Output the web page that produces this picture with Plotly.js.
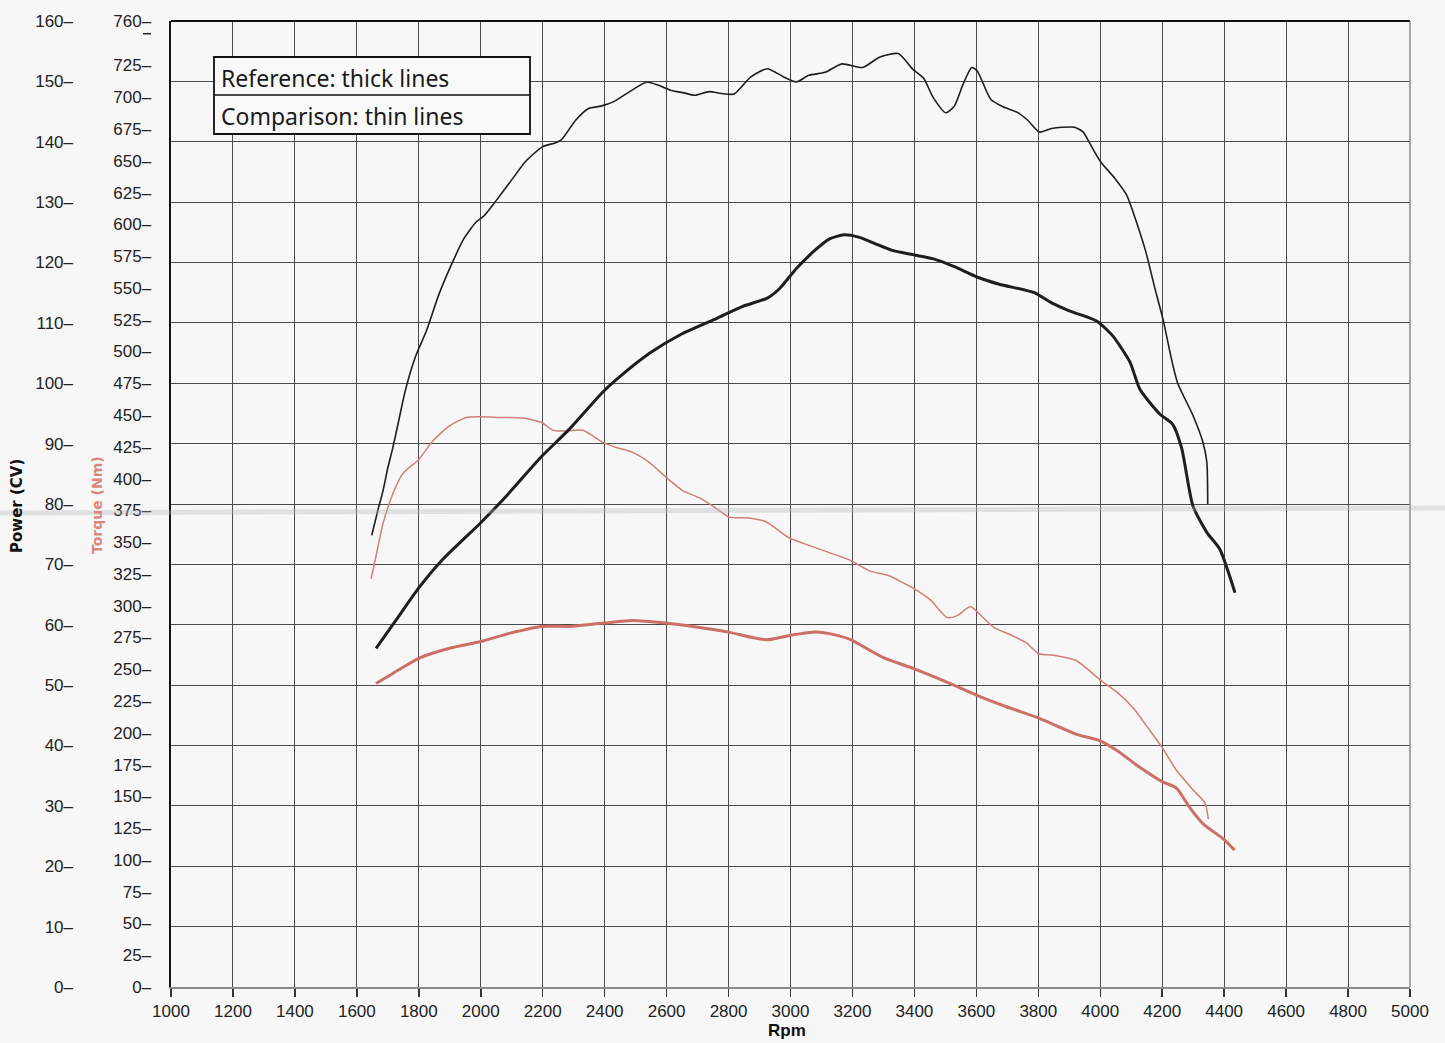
<!DOCTYPE html>
<html>
<head>
<meta charset="utf-8">
<script src="https://cdn.plot.ly/plotly-3.0.1.min.js"></script>
<style>html,body{margin:0;padding:0;background:#f7f7f7;}#chart{width:1445px;height:1043px;}</style>
</head>
<body>
<div id="chart"></div>
<script>
// ---- Data read from the dyno sheet ----
// Comparison (thin lines) – power in CV
const compPowerRpm = [1648,1668,1684,1700,1716,1736,1756,1790,1824,1864,1905,1945,1985,2012,2046,2093,2146,2200,2240,2260,2307,2348,2388,2428,2475,2536,2576,2616,2656,2690,2737,2777,2818,2871,2925,2979,3019,3059,3112,3166,3233,3287,3348,3395,3430,3461,3501,3529,3557,3585,3602,3647,3686,3731,3765,3804,3843,3877,3917,3945,3973,4001,4046,4085,4113,4147,4175,4203,4230,4250,4299,4331,4344,4347];
const compPower    = [74.8,79,82.1,86,89.3,94,98.7,104.5,108.6,114.6,119.6,123.9,126.7,127.8,130,133.2,136.8,139.2,139.8,140.3,143.6,145.5,145.9,146.6,148.1,149.9,149.3,148.5,148.1,147.7,148.3,148.0,147.9,150.7,152.1,150.7,149.9,151.0,151.5,152.9,152.3,154.0,154.6,152.0,150.5,147.3,144.8,145.9,149.5,152.3,151.8,147.0,145.8,144.9,143.6,141.6,142.2,142.4,142.4,141.6,139.1,136.7,134.0,131.2,127.3,121.8,116.0,110.5,104.0,100.0,94.7,90.3,87.0,80.0];

// Reference (thick lines) – power in CV
const refPowerRpm = [1662,1727,1800,1877,2000,2082,2197,2286,2395,2449,2546,2650,2764,2844,2925,2965,3019,3072,3126,3173,3220,3274,3328,3395,3462,3529,3602,3674,3787,3843,3900,3967,3992,4041,4096,4128,4192,4234,4263,4299,4344,4386,4435];
const refPower    = [56.1,60.8,66.1,70.8,76.9,81.3,87.9,92.4,98.6,101.1,105,108.2,110.8,112.7,114.1,115.7,119.0,121.7,123.9,124.6,124.2,123.1,122.0,121.3,120.6,119.3,117.6,116.4,115.0,113.3,112.0,110.8,110.2,107.8,103.5,99.0,94.9,93.2,89.2,79.7,75.3,72.5,65.3];

// Comparison (thin lines) – torque in Nm
const compTorqueRpm = [1646,1662,1684,1716,1748,1800,1845,1899,1953,2000,2062,2138,2197,2233,2276,2330,2396,2437,2490,2545,2598,2652,2706,2759,2802,2867,2921,2996,3082,3190,3255,3318,3400,3453,3506,3538,3581,3624,3656,3709,3761,3800,3858,3924,4000,4054,4108,4162,4200,4246,4300,4338,4349];
const compTorque    = [321.2,339.1,364.2,387.9,403.8,415.1,429.6,441.4,448.1,448.6,448.1,447.6,444.1,438.0,437.5,438.0,428.3,424.5,420.6,412.6,401.1,390.5,384.8,376.8,369.7,369.0,366.0,353.3,345.5,336.0,327.4,323.5,313.2,304.2,290.6,292.2,299.1,290.1,283.0,277.3,270.9,262.4,260.6,256.7,241.5,232.0,219.2,201.2,188.4,170.5,155.0,144.8,132.0];

// Reference (thick lines) – torque in Nm
const refTorqueRpm = [1662,1716,1800,1899,2000,2095,2197,2286,2396,2490,2598,2695,2800,2921,2998,3082,3125,3192,3298,3400,3516,3600,3695,3800,3924,4000,4054,4118,4200,4246,4289,4332,4396,4434];
const refTorque    = [238.8,246.7,258.6,266.5,271.8,278.4,283.7,283.7,286.3,288.4,286.3,283.2,279.2,273.2,276.6,279.2,278.0,273.5,259.3,250.3,238.7,229.7,220.7,211.7,198.8,193.7,186.0,174.5,161.6,156.5,141.1,128.3,116.7,107.7];

// Tick labels
const rpmTicks = [1000,1200,1400,1600,1800,2000,2200,2400,2600,2800,3000,3200,3400,3600,3800,4000,4200,4400,4600,4800,5000];
const powerTicks = [0,10,20,30,40,50,60,70,80,90,100,110,120,130,140,150,160];
const torqueTicks = [0,25,50,75,100,125,150,175,200,225,250,275,300,325,350,375,400,425,450,475,500,525,550,575,600,625,650,675,700,725,760];
const torqueUnlabelledTick = 750;
const torqueTickText = torqueTicks.map(v => v + '–');
const powerTickText = powerTicks.map(v => v + '–');

const legendLines = ['Reference: thick lines', 'Comparison: thin lines'];

// ---- Layout helpers ----
const W = 1445, H = 1043, ML = 10, MR = 35, MT = 21, MB = 56;
const PW = W - ML - MR, PH = H - MT - MB;
const px = x => (x - ML) / PW;
const py = y => (H - MB - y) / PH;

const black = '#1e1e1e';
const red = '#cc6f66';
const redThin = '#d17f76';

const traces = [
  {x: compPowerRpm, y: compPower, yaxis: 'y2', mode: 'lines', line: {color: black, width: 1.6, shape: 'spline', smoothing: 0.6}, hoverinfo: 'skip'},
  {x: refPowerRpm, y: refPower, yaxis: 'y2', mode: 'lines', line: {color: black, width: 3, shape: 'spline', smoothing: 0.6}, hoverinfo: 'skip'},
  {x: compTorqueRpm, y: compTorque, yaxis: 'y', mode: 'lines', line: {color: redThin, width: 1.5, shape: 'spline', smoothing: 0.6}, hoverinfo: 'skip'},
  {x: refTorqueRpm, y: refTorque, yaxis: 'y', mode: 'lines', line: {color: red, width: 3, shape: 'spline', smoothing: 0.6}, hoverinfo: 'skip'}
];

const tickFont = {family: '"Liberation Sans", Arial, sans-serif', size: 17, color: '#222'};

const layout = {
  width: W, height: H,
  margin: {l: ML, r: MR, t: MT, b: MB, pad: 0},
  paper_bgcolor: '#f7f7f7',
  plot_bgcolor: '#f7f7f7',
  showlegend: false,
  xaxis: {
    domain: [px(171), 1],
    range: [1000, 5000],
    tickvals: rpmTicks,
    ticktext: rpmTicks.map(String),
    ticks: 'outside', ticklen: 8, tickwidth: 1.5, tickcolor: '#333',
    tickfont: tickFont,
    showgrid: true, gridcolor: '#4a4a4a', gridwidth: 1,
    showline: true, linecolor: '#8a8a8a', linewidth: 1.5,
    zeroline: false, fixedrange: true
  },
  yaxis: {
    range: [0, 760],
    anchor: 'x', side: 'left',
    tickvals: torqueTicks, ticktext: torqueTickText,
    ticks: '', tickfont: tickFont, ticklabelstandoff: 14,
    showgrid: false, zeroline: false,
    showline: true, linecolor: '#111', linewidth: 2.5,
    fixedrange: true
  },
  yaxis2: {
    range: [0, 160],
    overlaying: 'y', anchor: 'free', side: 'left', position: px(73),
    tickvals: powerTicks, ticktext: powerTickText,
    ticks: '', tickfont: tickFont,
    showgrid: true, gridcolor: '#4a4a4a', gridwidth: 1,
    showline: false, zeroline: false, fixedrange: true
  },
  shapes: [
    // unlabelled torque tick mark at 750 Nm
    {type: 'line', xref: 'paper', yref: 'y', x0: px(143), x1: px(151), y0: torqueUnlabelledTick, y1: torqueUnlabelledTick, line: {color: '#222', width: 1.5}},
    // top border
    {type: 'line', xref: 'paper', yref: 'paper', x0: px(171), x1: 1, y0: 1, y1: 1, line: {color: '#111', width: 2}},
    // right border
    {type: 'line', xref: 'paper', yref: 'paper', x0: 1, x1: 1, y0: 0, y1: 1, line: {color: '#8a8a8a', width: 1.5}},
    // paper fold
    {type: 'line', xref: 'paper', yref: 'paper', x0: px(0), x1: px(1445), y0: py(513), y1: py(508), line: {color: 'rgba(175,180,185,0.35)', width: 5}},
    // legend box
    {type: 'rect', xref: 'paper', yref: 'paper', x0: px(214), x1: px(530), y0: py(134), y1: py(57), fillcolor: '#f9f9f9', line: {color: '#111', width: 1.8}},
    {type: 'line', xref: 'paper', yref: 'paper', x0: px(214), x1: px(530), y0: py(95), y1: py(95), line: {color: '#111', width: 1.5}}
  ],
  annotations: [
    {text: legendLines[0], xref: 'paper', yref: 'paper', x: px(219), y: py(78), xanchor: 'left', yanchor: 'middle', showarrow: false, font: {family: '"Noto Sans", "Open Sans", sans-serif', size: 23, color: '#1a1a1a'}},
    {text: legendLines[1], xref: 'paper', yref: 'paper', x: px(219), y: py(116), xanchor: 'left', yanchor: 'middle', showarrow: false, font: {family: '"Noto Sans", "Open Sans", sans-serif', size: 23, color: '#1a1a1a'}},
    {text: '<b>Power (CV)</b>', xref: 'paper', yref: 'paper', x: px(17), y: py(506), xanchor: 'center', yanchor: 'middle', textangle: -90, showarrow: false, font: {family: '"DejaVu Sans", sans-serif', size: 15, color: '#111'}},
    {text: '<b>Torque (Nm)</b>', xref: 'paper', yref: 'paper', x: px(97), y: py(505), xanchor: 'center', yanchor: 'middle', textangle: -90, showarrow: false, font: {family: '"DejaVu Sans", sans-serif', size: 14, color: '#d9877d'}},
    {text: '<b>Rpm</b>', xref: 'paper', yref: 'paper', x: px(787), y: py(1030), xanchor: 'center', yanchor: 'middle', showarrow: false, font: {family: '"Liberation Sans", Arial, sans-serif', size: 17, color: '#111'}}
  ]
};

Plotly.newPlot('chart', traces, layout, {staticPlot: true, displayModeBar: false});
</script>
</body>
</html>
